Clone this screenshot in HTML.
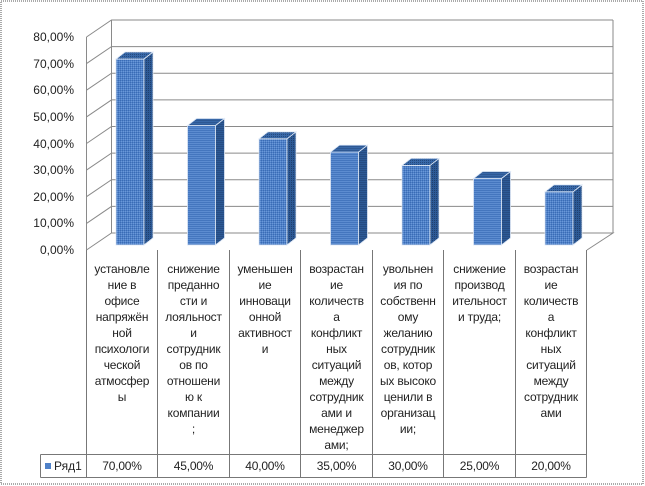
<!DOCTYPE html>
<html><head><meta charset="utf-8"><style>
body{margin:0;background:#fff}
svg{display:block;font-family:"Liberation Sans","DejaVu Sans",sans-serif}
</style></head><body>
<svg width="645" height="486" viewBox="0 0 645 486" xmlns="http://www.w3.org/2000/svg">
<defs>
<pattern id="p" width="2" height="2" patternUnits="userSpaceOnUse"><rect width="2" height="2" fill="#4f81c8"/><rect width="1" height="1" fill="#3a6cb5"/><rect x="1" y="1" width="1" height="1" fill="#6a98d8"/></pattern>
<pattern id="s" width="2" height="2" patternUnits="userSpaceOnUse"><rect width="2" height="2" fill="#2d5a96"/><rect width="1" height="1" fill="#1f3f6e"/></pattern>
<pattern id="t" width="2" height="2" patternUnits="userSpaceOnUse"><rect width="2" height="2" fill="#3868a8"/><rect width="1" height="1" fill="#24497e"/></pattern>
</defs>
<rect x="1" y="1" width="642" height="483" fill="#fff" stroke="#555" stroke-dasharray="1,1"/>
<g stroke="#8a8a8a" stroke-width="1" fill="none">
<path d="M86.5 37 L111.5 20 L613 20"/>
<path d="M86.5 37 V250"/>
<path d="M111.5 20 V233"/>
<path d="M86.5 63.6 L111.5 46.6 H613"/>
<path d="M86.5 90.2 L111.5 73.2 H613"/>
<path d="M86.5 116.9 L111.5 99.9 H613"/>
<path d="M86.5 143.5 L111.5 126.5 H613"/>
<path d="M86.5 170.1 L111.5 153.1 H613"/>
<path d="M86.5 196.7 L111.5 179.7 H613"/>
<path d="M86.5 223.4 L111.5 206.4 H613"/>
<path d="M86.5 250 L111.5 233 H613 L587 250"/>
<path d="M613 20 V233"/>
</g>
<g font-size="12" fill="#222" text-anchor="end">
<text x="74" y="41">80,00%</text><text x="74" y="68">70,00%</text><text x="74" y="94">60,00%</text><text x="74" y="121">50,00%</text><text x="74" y="148">40,00%</text><text x="74" y="174">30,00%</text><text x="74" y="201">20,00%</text><text x="74" y="227">10,00%</text><text x="74" y="254">0,00%</text>
</g>
<g stroke="#dfe9f7" stroke-width="0.8">
<g transform="translate(116,0)"><rect x="0" y="59" width="28" height="186" fill="url(#p)"/><path d="M28 59 l9 -7 v186 l-9 7z" fill="url(#s)"/><path d="M0 59 l9 -7 h28 l-9 7z" fill="url(#t)"/></g>
<g transform="translate(187.5,0)"><rect x="0" y="125.5" width="28" height="119.5" fill="url(#p)"/><path d="M28 125.5 l9 -7 v119.5 l-9 7z" fill="url(#s)"/><path d="M0 125.5 l9 -7 h28 l-9 7z" fill="url(#t)"/></g>
<g transform="translate(259,0)"><rect x="0" y="138.8" width="28" height="106.2" fill="url(#p)"/><path d="M28 138.8 l9 -7 v106.2 l-9 7z" fill="url(#s)"/><path d="M0 138.8 l9 -7 h28 l-9 7z" fill="url(#t)"/></g>
<g transform="translate(330.5,0)"><rect x="0" y="152.1" width="28" height="92.9" fill="url(#p)"/><path d="M28 152.1 l9 -7 v92.9 l-9 7z" fill="url(#s)"/><path d="M0 152.1 l9 -7 h28 l-9 7z" fill="url(#t)"/></g>
<g transform="translate(402,0)"><rect x="0" y="165.4" width="28" height="79.6" fill="url(#p)"/><path d="M28 165.4 l9 -7 v79.6 l-9 7z" fill="url(#s)"/><path d="M0 165.4 l9 -7 h28 l-9 7z" fill="url(#t)"/></g>
<g transform="translate(473.5,0)"><rect x="0" y="178.5" width="28" height="66.5" fill="url(#p)"/><path d="M28 178.5 l9 -7 v66.5 l-9 7z" fill="url(#s)"/><path d="M0 178.5 l9 -7 h28 l-9 7z" fill="url(#t)"/></g>
<g transform="translate(545,0)"><rect x="0" y="191.8" width="28" height="53.2" fill="url(#p)"/><path d="M28 191.8 l9 -7 v53.2 l-9 7z" fill="url(#s)"/><path d="M0 191.8 l9 -7 h28 l-9 7z" fill="url(#t)"/></g>
</g>
<g stroke="#777" stroke-width="1" fill="none">
<path d="M86.5 250 V477.5 M157.5 250 V477.5 M229.5 250 V477.5 M300.5 250 V477.5 M372.5 250 V477.5 M443.5 250 V477.5 M515.5 250 V477.5 M586.5 250 V477.5"/>
<path d="M40.5 454.5 H586.5 M40.5 477.5 H586.5 M40.5 454.5 V477.5"/>
</g>
<g font-size="12" fill="#222" text-anchor="middle" letter-spacing="-0.2">
<text x="122" y="273">установле</text><text x="122" y="289">ние в</text><text x="122" y="305">офисе</text><text x="122" y="321">напряжён</text><text x="122" y="337">ной</text><text x="122" y="353">психологи</text><text x="122" y="369">ческой</text><text x="122" y="385">атмосфер</text><text x="122" y="401">ы</text>
<text x="193.5" y="273">снижение</text><text x="193.5" y="289">преданно</text><text x="193.5" y="305">сти и</text><text x="193.5" y="321">лояльност</text><text x="193.5" y="337">и</text><text x="193.5" y="353">сотрудник</text><text x="193.5" y="369">ов по</text><text x="193.5" y="385">отношени</text><text x="193.5" y="401">ю к</text><text x="193.5" y="417">компании</text><text x="193.5" y="433">;</text>
<text x="265" y="273">уменьшен</text><text x="265" y="289">ие</text><text x="265" y="305">инноваци</text><text x="265" y="321">онной</text><text x="265" y="337">активност</text><text x="265" y="353">и</text>
<text x="336.5" y="273">возрастан</text><text x="336.5" y="289">ие</text><text x="336.5" y="305">количеств</text><text x="336.5" y="321">а</text><text x="336.5" y="337">конфликт</text><text x="336.5" y="353">ных</text><text x="336.5" y="369">ситуаций</text><text x="336.5" y="385">между</text><text x="336.5" y="401">сотрудник</text><text x="336.5" y="417">ами и</text><text x="336.5" y="433">менеджер</text><text x="336.5" y="449">ами;</text>
<text x="408" y="273">увольнен</text><text x="408" y="289">ия по</text><text x="408" y="305">собственн</text><text x="408" y="321">ому</text><text x="408" y="337">желанию</text><text x="408" y="353">сотрудник</text><text x="408" y="369">ов, котор</text><text x="408" y="385">ых высоко</text><text x="408" y="401">ценили в</text><text x="408" y="417">организац</text><text x="408" y="433">ии;</text>
<text x="479.5" y="273">снижение</text><text x="479.5" y="289">производ</text><text x="479.5" y="305">ительност</text><text x="479.5" y="321">и труда;</text>
<text x="551" y="273">возрастан</text><text x="551" y="289">ие</text><text x="551" y="305">количеств</text><text x="551" y="321">а</text><text x="551" y="337">конфликт</text><text x="551" y="353">ных</text><text x="551" y="369">ситуаций</text><text x="551" y="385">между</text><text x="551" y="401">сотрудник</text><text x="551" y="417">ами</text>
<text x="122" y="470">70,00%</text><text x="193.5" y="470">45,00%</text><text x="265" y="470">40,00%</text><text x="336.5" y="470">35,00%</text><text x="408" y="470">30,00%</text><text x="479.5" y="470">25,00%</text><text x="551" y="470">20,00%</text>
</g>
<rect x="45" y="463" width="6" height="6" fill="#4f81c8"/>
<text x="54" y="470" font-size="12" fill="#222">Ряд1</text>
</svg>
</body></html>
